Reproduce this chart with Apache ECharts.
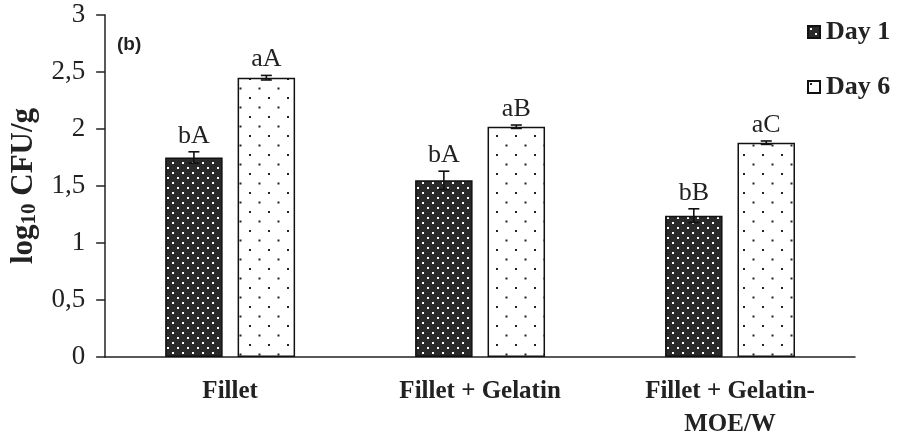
<!DOCTYPE html>
<html>
<head>
<meta charset="utf-8">
<script src="https://cdn.jsdelivr.net/npm/echarts@6/dist/echarts.min.js"></script>
<style>html,body{margin:0;padding:0;background:#fff;}#c{width:898px;height:441px;}</style>
</head>
<body>
<div id="c"></div>
<script>
const categories = ['Fillet', 'Fillet + Gelatin', 'Fillet + Gelatin-\nMOE/W'];
const day1 = [1.75, 1.55, 1.24];
const day1Err = [0.05, 0.08, 0.06];
const day1Labels = ['bA', 'bA', 'bB'];
const day6 = [2.45, 2.02, 1.88];
const day6Err = [0.02, 0.015, 0.015];
const day6Labels = ['aA', 'aB', 'aC'];
const yTicks = [0, 0.5, 1, 1.5, 2, 2.5, 3];

function makePattern(bg, dot, size, r) {
  const c = document.createElement('canvas');
  c.width = size; c.height = size;
  const g = c.getContext('2d');
  g.fillStyle = bg; g.fillRect(0, 0, size, size);
  g.fillStyle = dot;
  g.fillRect(2, 2, r, r);
  g.fillRect(2 + size / 2, 2 + size / 2, r, r);
  return c;
}
const darkPat = { image: makePattern('#2a2a2a', '#ffffff', 10, 2), repeat: 'repeat' };
const lightPat = { image: makePattern('#ffffff', '#222222', 19, 2), repeat: 'repeat' };

const serif = 'Liberation Serif, Times New Roman, serif';
const chart = echarts.init(document.getElementById('c'));

function errSeries(vals, errs, labels, idx) {
  const data = vals.map((v, i) => [i, v, errs[i]]);
  return {
    type: 'custom',
    name: 'err' + idx,
    z: 10,
    data: data,
    renderItem: function (params, api) {
      const i = api.value(0), v = api.value(1), e = api.value(2);
      const lab = labels[params.dataIndex];
      const base = api.coord([i, v]);
      const bandW = api.size([1, 0])[0];
      const barW = bandW * 0.23;
      const gap = barW * 0.26;
      const off = (idx === 0 ? -1 : 1) * (barW + gap) / 2;
      const x = base[0] + off;
      const top = api.coord([i, v + e])[1];
      const bot = api.coord([i, v - e])[1];
      const cap = 5.5;
      const st = { stroke: '#111', lineWidth: 1.6 };
      return {
        type: 'group',
        children: [
          { type: 'line', shape: { x1: x, y1: top, x2: x, y2: bot }, style: st },
          { type: 'line', shape: { x1: x - cap, y1: top, x2: x + cap, y2: top }, style: st },
          { type: 'line', shape: { x1: x - cap, y1: bot, x2: x + cap, y2: bot }, style: st },
          { type: 'text', x: x, y: top - 3, style: { text: lab, fill: '#222', font: '26px ' + serif, textAlign: 'center', textVerticalAlign: 'bottom' } }
        ]
      };
    }
  };
}

chart.setOption({
  animation: false,
  backgroundColor: '#fff',
  grid: { left: 99, right: 43, top: 15, bottom: 81 },
  legend: {
    data: ['Day 1', 'Day 6'],
    orient: 'vertical',
    left: 802, top: 14,
    itemWidth: 12, itemHeight: 12,
    itemGap: 29,
    icon: 'rect',
    textStyle: { fontFamily: serif, fontWeight: 'bold', fontSize: 26, color: '#222', padding: [0, 0, 0, 1] }
  },
  graphic: [{
    type: 'text', left: 117, top: 35,
    style: { text: '(b)', font: 'bold 19px Liberation Sans, Arial, sans-serif', fill: '#222' }
  }],
  xAxis: {
    type: 'category',
    data: categories,
    axisLine: { lineStyle: { color: '#222', width: 1.5 } },
    axisTick: { show: false },
    axisLabel: { margin: 18, fontFamily: serif, fontWeight: 'bold', fontSize: 25, color: '#222', lineHeight: 33, interval: 0 }
  },
  yAxis: {
    type: 'value',
    min: 0, max: 3, interval: 0.5,
    name: '{b|log}{s|10}{b| CFU/g}',
    nameLocation: 'middle',
    nameGap: 56,
    nameRotate: 90,
    nameTextStyle: {
      rich: {
        b: { fontFamily: serif, fontWeight: 'bold', fontSize: 31, color: '#222' },
        s: { fontFamily: serif, fontWeight: 'bold', fontSize: 21, color: '#222', padding: [13, 0, 0, 0] }
      }
    },
    splitLine: { show: false },
    axisLine: { show: true, lineStyle: { color: '#222', width: 1.5 } },
    axisTick: { show: true, inside: false, length: 9, lineStyle: { color: '#222', width: 1.5 } },
    axisLabel: {
      margin: 20, fontFamily: serif, fontSize: 27, color: '#222',
      formatter: v => yTicks.includes(v) ? String(v).replace('.', ',') : ''
    }
  },
  series: [
    {
      name: 'Day 1', type: 'bar', data: day1,
      barWidth: '23%', barGap: '26%',
      itemStyle: { color: darkPat, borderColor: '#111', borderWidth: 1.5 }
    },
    {
      name: 'Day 6', type: 'bar', data: day6,
      barWidth: '23%',
      itemStyle: { color: lightPat, borderColor: '#111', borderWidth: 1.5 }
    },
    errSeries(day1, day1Err, day1Labels, 0),
    errSeries(day6, day6Err, day6Labels, 1)
  ]
});
</script>
</body>
</html>
